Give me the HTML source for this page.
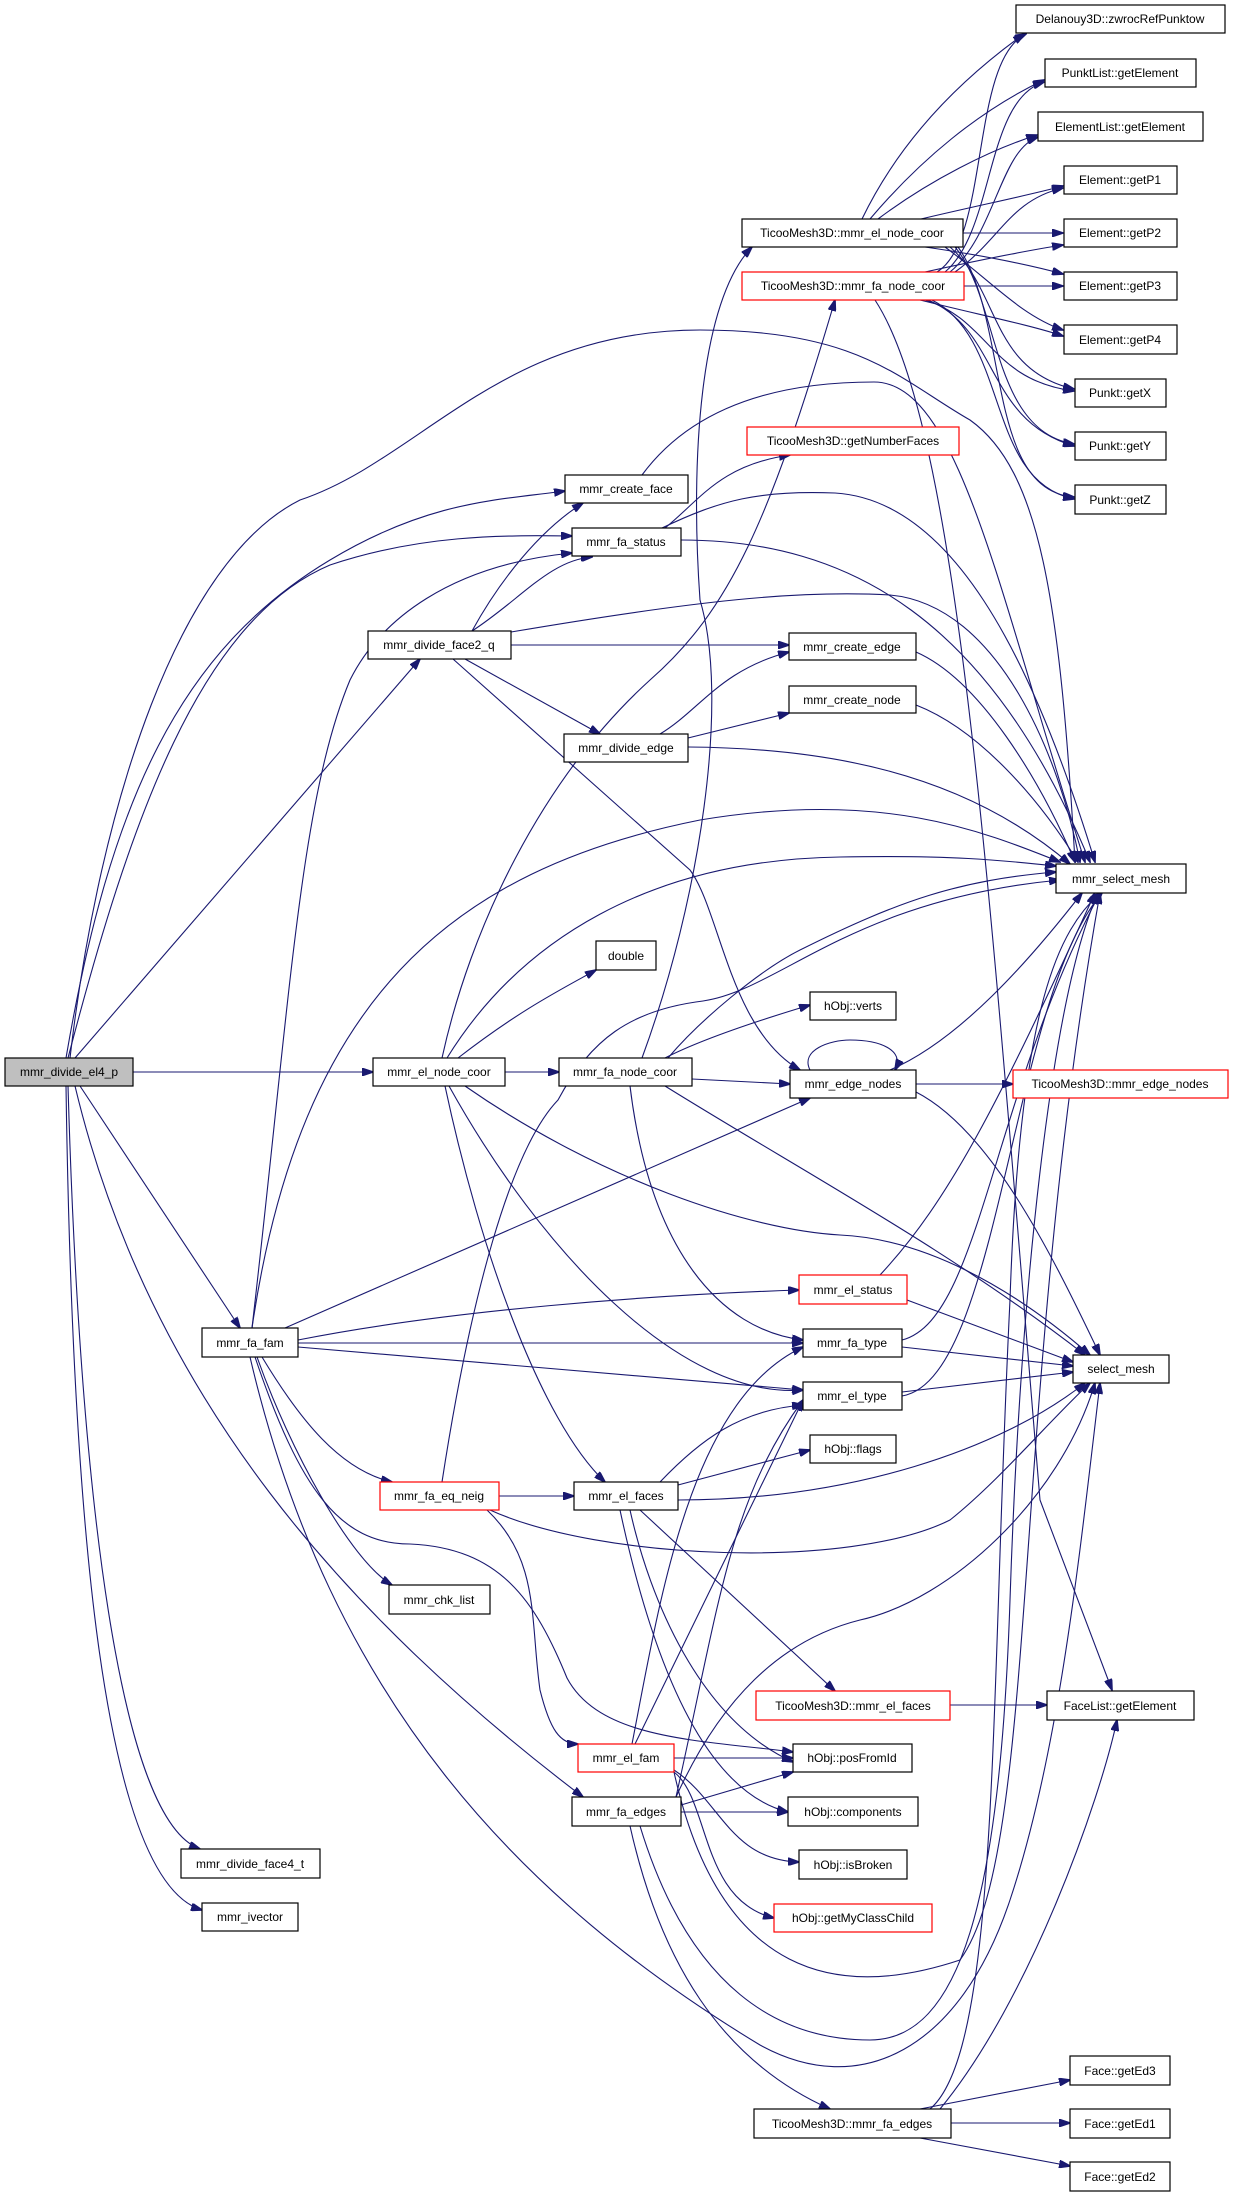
<!DOCTYPE html>
<html><head><meta charset="utf-8"><style>
html,body{margin:0;padding:0;background:#fff;}
svg{display:block;}
text{font-family:"Liberation Sans",Arial,sans-serif;font-size:12px;fill:#000;}
.e{fill:none;stroke:#191970;stroke-width:1.1;marker-end:url(#a);}
.n{fill:#fff;stroke:#000;stroke-width:1.2;}
.r{fill:#fff;stroke:#f00;stroke-width:1.2;}
</style></head><body>
<svg width="1235" height="2197" viewBox="0 0 1235 2197" xmlns="http://www.w3.org/2000/svg">
<defs><marker id="a" markerWidth="12" markerHeight="8" refX="11" refY="4" orient="auto" markerUnits="userSpaceOnUse"><path d="M0,0 L12,4 L0,8 z" fill="#191970" stroke="#191970"/></marker></defs>

<path class="e" d="M862,219 C900,140 960,80 1024,34"/>
<path class="e" d="M870,219 C920,160 980,110 1044,80"/>
<path class="e" d="M878,219 C930,180 990,150 1037,135"/>
<path class="e" d="M921,219 C980,205 1030,195 1063,186"/>
<path class="e" d="M963,233 L1063,233"/>
<path class="e" d="M925,247 C980,255 1030,265 1063,274"/>
<path class="e" d="M945,247 C990,280 1020,315 1063,330"/>
<path class="e" d="M950,247 C1000,290 990,370 1074,389"/>
<path class="e" d="M955,247 C1000,300 990,430 1074,444"/>
<path class="e" d="M958,247 C1010,320 985,490 1074,497"/>
<path class="e" d="M937,272 C990,240 970,60 1026,34"/>
<path class="e" d="M945,272 C995,230 985,100 1044,82"/>
<path class="e" d="M950,272 C995,235 1000,150 1038,137"/>
<path class="e" d="M955,272 C1000,240 1010,200 1063,188"/>
<path class="e" d="M925,272 C980,260 1030,250 1063,245"/>
<path class="e" d="M964,286 L1063,286"/>
<path class="e" d="M920,300 C980,315 1030,325 1063,336"/>
<path class="e" d="M925,300 C990,320 990,380 1074,391"/>
<path class="e" d="M928,300 C1000,330 985,420 1074,446"/>
<path class="e" d="M932,300 C1010,340 985,480 1074,499"/>
<path class="e" d="M875,300 C960,430 990,900 1040,1500 L1112,1690"/>

<path class="e" d="M665,528 C700,500 720,465 790,455"/>
<path class="e" d="M681,540 C850,540 990,620 1090,862"/>
<path class="e" d="M662,528 C720,500 760,490 835,493 C950,500 1030,650 1095,862"/>
<path class="e" d="M642,475 C690,410 770,382 874,382 C960,382 1000,600 1085,862"/>
<path class="e" d="M472,631 C500,580 540,530 583,503"/>
<path class="e" d="M472,631 C520,600 550,560 592,557"/>
<path class="e" d="M511,632 C700,600 800,590 890,595 C1000,605 1060,760 1080,862"/>
<path class="e" d="M511,645 L789,645"/>
<path class="e" d="M465,659 L600,734"/>
<path class="e" d="M453,659 L690,870 C720,910 730,1030 800,1070"/>
<path class="e" d="M916,652 C980,680 1040,780 1075,862"/>
<path class="e" d="M916,705 C980,730 1040,800 1078,862"/>
<path class="e" d="M660,734 C700,710 720,670 789,652"/>
<path class="e" d="M688,738 L789,713"/>
<path class="e" d="M688,747 C820,748 960,770 1070,864"/>

<path class="e" d="M70,1058 C100,800 180,560 300,500 C420,460 500,330 700,330 C860,330 900,380 970,420 C1040,470 1060,600 1075,862"/>
<path class="e" d="M66,1058 C110,800 180,650 330,560 C430,500 500,500 565,491"/>
<path class="e" d="M68,1058 C130,820 200,620 330,565 C420,535 500,535 572,536"/>
<path class="e" d="M75,1058 L420,659"/>
<path class="e" d="M252,1328 C290,1000 300,800 350,680 C380,620 450,565 572,553"/>
<path class="e" d="M133,1072 L373,1072"/>

<path class="e" d="M505,1072 L559,1072"/>
<path class="e" d="M458,1058 C520,1010 560,990 596,970"/>
<path class="e" d="M442,1058 C470,930 540,780 650,680 C730,610 770,520 835,300"/>
<path class="e" d="M447,1058 C520,940 650,860 840,857 C950,855 1000,860 1056,866"/>
<path class="e" d="M252,1328 C300,1000 450,870 700,820 C880,790 980,830 1060,862"/>
<path class="e" d="M445,1086 C480,1250 540,1420 605,1482"/>
<path class="e" d="M449,1086 C540,1250 680,1400 803,1390"/>
<path class="e" d="M465,1086 C600,1180 750,1230 840,1235 C950,1240 1050,1320 1090,1355"/>

<path class="e" d="M642,1058 C700,900 730,700 700,600 C690,460 700,300 752,247"/>
<path class="e" d="M665,1058 C700,1040 760,1020 810,1005"/>
<path class="e" d="M692,1079 L790,1084"/>
<path class="e" d="M668,1058 C700,1020 760,970 800,950 C900,900 960,880 1056,872"/>
<path class="e" d="M665,1086 C800,1170 950,1250 1085,1355"/>
<path class="e" d="M630,1086 C650,1250 720,1330 803,1340"/>
<path class="e" d="M442,1482 C470,1300 510,1150 558,1100 C590,1040 630,1010 703,1001 C780,990 850,900 1060,880"/>

<path class="e" d="M810,1070 C800,1050 830,1040 850,1040 C880,1040 905,1050 895,1070"/>
<path class="e" d="M916,1084 L1013,1084"/>
<path class="e" d="M890,1070 C960,1040 1030,960 1082,893"/>
<path class="e" d="M916,1092 C990,1130 1050,1250 1100,1355"/>
<path class="e" d="M285,1328 L810,1098"/>

<path class="e" d="M298,1340 C450,1310 650,1295 799,1290"/>
<path class="e" d="M298,1343 L803,1343"/>
<path class="e" d="M298,1347 L803,1390"/>
<path class="e" d="M262,1357 C300,1420 340,1470 392,1482"/>
<path class="e" d="M257,1357 C290,1450 350,1560 392,1585"/>
<path class="e" d="M255,1357 C300,1490 340,1544 410,1544 C500,1548 535,1600 567,1678 C600,1740 700,1740 793,1752"/>
<path class="e" d="M250,1357 C330,1700 520,1900 760,2045 C860,2100 960,2050 1010,1900 C1060,1750 1080,1550 1100,1383"/>
<path class="e" d="M80,1086 L240,1328"/>
<path class="e" d="M75,1086 C150,1400 350,1620 583,1797"/>
<path class="e" d="M68,1086 C80,1500 120,1820 200,1849"/>
<path class="e" d="M66,1086 C72,1500 100,1880 202,1910"/>

<path class="e" d="M880,1275 C950,1200 1000,1100 1095,893"/>
<path class="e" d="M907,1300 L1073,1362"/>
<path class="e" d="M902,1347 L1073,1366"/>
<path class="e" d="M902,1340 C980,1320 990,1100 1100,893"/>
<path class="e" d="M902,1392 L1073,1372"/>
<path class="e" d="M902,1396 C1000,1380 1010,1000 1102,893"/>

<path class="e" d="M499,1496 L574,1496"/>
<path class="e" d="M487,1510 C540,1560 530,1620 540,1690 C550,1730 560,1744 578,1744"/>
<path class="e" d="M490,1510 C600,1560 850,1570 950,1520 C1000,1480 1050,1420 1090,1383"/>

<path class="e" d="M678,1485 L810,1450"/>
<path class="e" d="M660,1482 C700,1440 740,1410 803,1405"/>
<path class="e" d="M678,1500 C850,1500 1000,1450 1085,1383"/>
<path class="e" d="M640,1510 L835,1691"/>
<path class="e" d="M630,1510 C650,1600 700,1720 793,1762"/>
<path class="e" d="M620,1510 C650,1650 700,1790 788,1812"/>
<path class="e" d="M950,1705 L1047,1705"/>

<path class="e" d="M674,1758 L793,1758"/>
<path class="e" d="M632,1744 C660,1600 690,1400 803,1347"/>
<path class="e" d="M635,1744 L803,1400"/>
<path class="e" d="M674,1770 C720,1800 730,1860 799,1862"/>
<path class="e" d="M674,1772 C710,1800 700,1900 774,1918"/>
<path class="e" d="M674,1772 C720,1980 840,2000 960,1960 C1040,1850 1010,1400 1100,893"/>

<path class="e" d="M681,1805 L793,1772"/>
<path class="e" d="M681,1812 L788,1812"/>
<path class="e" d="M676,1797 C720,1600 730,1500 803,1400"/>
<path class="e" d="M676,1797 C720,1700 780,1640 860,1620 C950,1600 1060,1500 1095,1383"/>
<path class="e" d="M630,1826 C660,1960 720,2060 830,2109"/>
<path class="e" d="M640,1826 C690,1990 780,2040 870,2040 C960,2040 1000,1900 1010,1600 C1020,1300 1050,1000 1098,893"/>

<path class="e" d="M920,2109 L1070,2080"/>
<path class="e" d="M951,2123 L1070,2123"/>
<path class="e" d="M920,2138 L1070,2166"/>
<path class="e" d="M940,2109 C1030,2000 1100,1800 1117,1720"/>
<path class="e" d="M930,2109 C1000,2050 990,1700 1010,1300 C1020,1000 1060,930 1100,893"/>

<g>
<rect class="n" x="1016" y="5" width="209" height="28"/><text x="1120" y="23" text-anchor="middle">Delanouy3D::zwrocRefPunktow</text>
<rect class="n" x="1045" y="59" width="151" height="28"/><text x="1120" y="77" text-anchor="middle">PunktList::getElement</text>
<rect class="n" x="1038" y="112" width="165" height="29"/><text x="1120" y="131" text-anchor="middle">ElementList::getElement</text>
<rect class="n" x="1064" y="166" width="113" height="28"/><text x="1120" y="184" text-anchor="middle">Element::getP1</text>
<rect class="n" x="1064" y="219" width="113" height="28"/><text x="1120" y="237" text-anchor="middle">Element::getP2</text>
<rect class="n" x="1064" y="272" width="113" height="28"/><text x="1120" y="290" text-anchor="middle">Element::getP3</text>
<rect class="n" x="1064" y="325" width="113" height="29"/><text x="1120" y="344" text-anchor="middle">Element::getP4</text>
<rect class="n" x="1075" y="379" width="91" height="28"/><text x="1120" y="397" text-anchor="middle">Punkt::getX</text>
<rect class="n" x="1075" y="432" width="91" height="28"/><text x="1120" y="450" text-anchor="middle">Punkt::getY</text>
<rect class="n" x="1075" y="485" width="91" height="29"/><text x="1120" y="504" text-anchor="middle">Punkt::getZ</text>
<rect class="n" x="742" y="219" width="221" height="28"/><text x="852" y="237" text-anchor="middle">TicooMesh3D::mmr_el_node_coor</text>
<rect class="r" x="742" y="272" width="222" height="28"/><text x="853" y="290" text-anchor="middle">TicooMesh3D::mmr_fa_node_coor</text>
<rect class="r" x="747" y="427" width="212" height="28"/><text x="853" y="445" text-anchor="middle">TicooMesh3D::getNumberFaces</text>
<rect class="n" x="565" y="475" width="123" height="28"/><text x="626" y="493" text-anchor="middle">mmr_create_face</text>
<rect class="n" x="572" y="528" width="109" height="28"/><text x="626" y="546" text-anchor="middle">mmr_fa_status</text>
<rect class="n" x="368" y="631" width="143" height="28"/><text x="439" y="649" text-anchor="middle">mmr_divide_face2_q</text>
<rect class="n" x="789" y="633" width="127" height="27"/><text x="852" y="651" text-anchor="middle">mmr_create_edge</text>
<rect class="n" x="789" y="686" width="127" height="27"/><text x="852" y="704" text-anchor="middle">mmr_create_node</text>
<rect class="n" x="564" y="734" width="124" height="28"/><text x="626" y="752" text-anchor="middle">mmr_divide_edge</text>
<rect class="n" x="1056" y="864" width="130" height="29"/><text x="1121" y="883" text-anchor="middle">mmr_select_mesh</text>
<rect class="n" x="596" y="941" width="60" height="29"/><text x="626" y="960" text-anchor="middle">double</text>
<rect class="n" x="810" y="992" width="86" height="28"/><text x="853" y="1010" text-anchor="middle">hObj::verts</text>
<rect x="5" y="1058" width="128" height="28" fill="#bfbfbf" stroke="#000" stroke-width="1.2"/><text x="69" y="1076" text-anchor="middle">mmr_divide_el4_p</text>
<rect class="n" x="373" y="1058" width="132" height="28"/><text x="439" y="1076" text-anchor="middle">mmr_el_node_coor</text>
<rect class="n" x="559" y="1058" width="133" height="28"/><text x="625" y="1076" text-anchor="middle">mmr_fa_node_coor</text>
<rect class="n" x="790" y="1070" width="126" height="28"/><text x="853" y="1088" text-anchor="middle">mmr_edge_nodes</text>
<rect class="r" x="1013" y="1070" width="215" height="28"/><text x="1120" y="1088" text-anchor="middle">TicooMesh3D::mmr_edge_nodes</text>
<rect class="r" x="799" y="1275" width="108" height="29"/><text x="853" y="1294" text-anchor="middle">mmr_el_status</text>
<rect class="n" x="202" y="1328" width="96" height="29"/><text x="250" y="1347" text-anchor="middle">mmr_fa_fam</text>
<rect class="n" x="803" y="1329" width="99" height="28"/><text x="852" y="1347" text-anchor="middle">mmr_fa_type</text>
<rect class="n" x="1073" y="1355" width="96" height="28"/><text x="1121" y="1373" text-anchor="middle">select_mesh</text>
<rect class="n" x="803" y="1382" width="99" height="28"/><text x="852" y="1400" text-anchor="middle">mmr_el_type</text>
<rect class="n" x="810" y="1435" width="86" height="28"/><text x="853" y="1453" text-anchor="middle">hObj::flags</text>
<rect class="r" x="380" y="1482" width="119" height="28"/><text x="439" y="1500" text-anchor="middle">mmr_fa_eq_neig</text>
<rect class="n" x="574" y="1482" width="104" height="28"/><text x="626" y="1500" text-anchor="middle">mmr_el_faces</text>
<rect class="n" x="389" y="1585" width="101" height="29"/><text x="439" y="1604" text-anchor="middle">mmr_chk_list</text>
<rect class="r" x="756" y="1691" width="194" height="29"/><text x="853" y="1710" text-anchor="middle">TicooMesh3D::mmr_el_faces</text>
<rect class="n" x="1047" y="1691" width="147" height="29"/><text x="1120" y="1710" text-anchor="middle">FaceList::getElement</text>
<rect class="r" x="578" y="1744" width="96" height="28"/><text x="626" y="1762" text-anchor="middle">mmr_el_fam</text>
<rect class="n" x="793" y="1744" width="119" height="28"/><text x="852" y="1762" text-anchor="middle">hObj::posFromId</text>
<rect class="n" x="572" y="1797" width="109" height="29"/><text x="626" y="1816" text-anchor="middle">mmr_fa_edges</text>
<rect class="n" x="788" y="1797" width="130" height="29"/><text x="853" y="1816" text-anchor="middle">hObj::components</text>
<rect class="n" x="799" y="1850" width="108" height="29"/><text x="853" y="1869" text-anchor="middle">hObj::isBroken</text>
<rect class="r" x="774" y="1904" width="158" height="28"/><text x="853" y="1922" text-anchor="middle">hObj::getMyClassChild</text>
<rect class="n" x="181" y="1849" width="139" height="29"/><text x="250" y="1868" text-anchor="middle">mmr_divide_face4_t</text>
<rect class="n" x="202" y="1903" width="96" height="28"/><text x="250" y="1921" text-anchor="middle">mmr_ivector</text>
<rect class="n" x="1070" y="2056" width="100" height="29"/><text x="1120" y="2075" text-anchor="middle">Face::getEd3</text>
<rect class="n" x="754" y="2109" width="197" height="29"/><text x="852" y="2128" text-anchor="middle">TicooMesh3D::mmr_fa_edges</text>
<rect class="n" x="1070" y="2109" width="100" height="29"/><text x="1120" y="2128" text-anchor="middle">Face::getEd1</text>
<rect class="n" x="1070" y="2162" width="100" height="29"/><text x="1120" y="2181" text-anchor="middle">Face::getEd2</text>
</g>
</svg>
</body></html>
